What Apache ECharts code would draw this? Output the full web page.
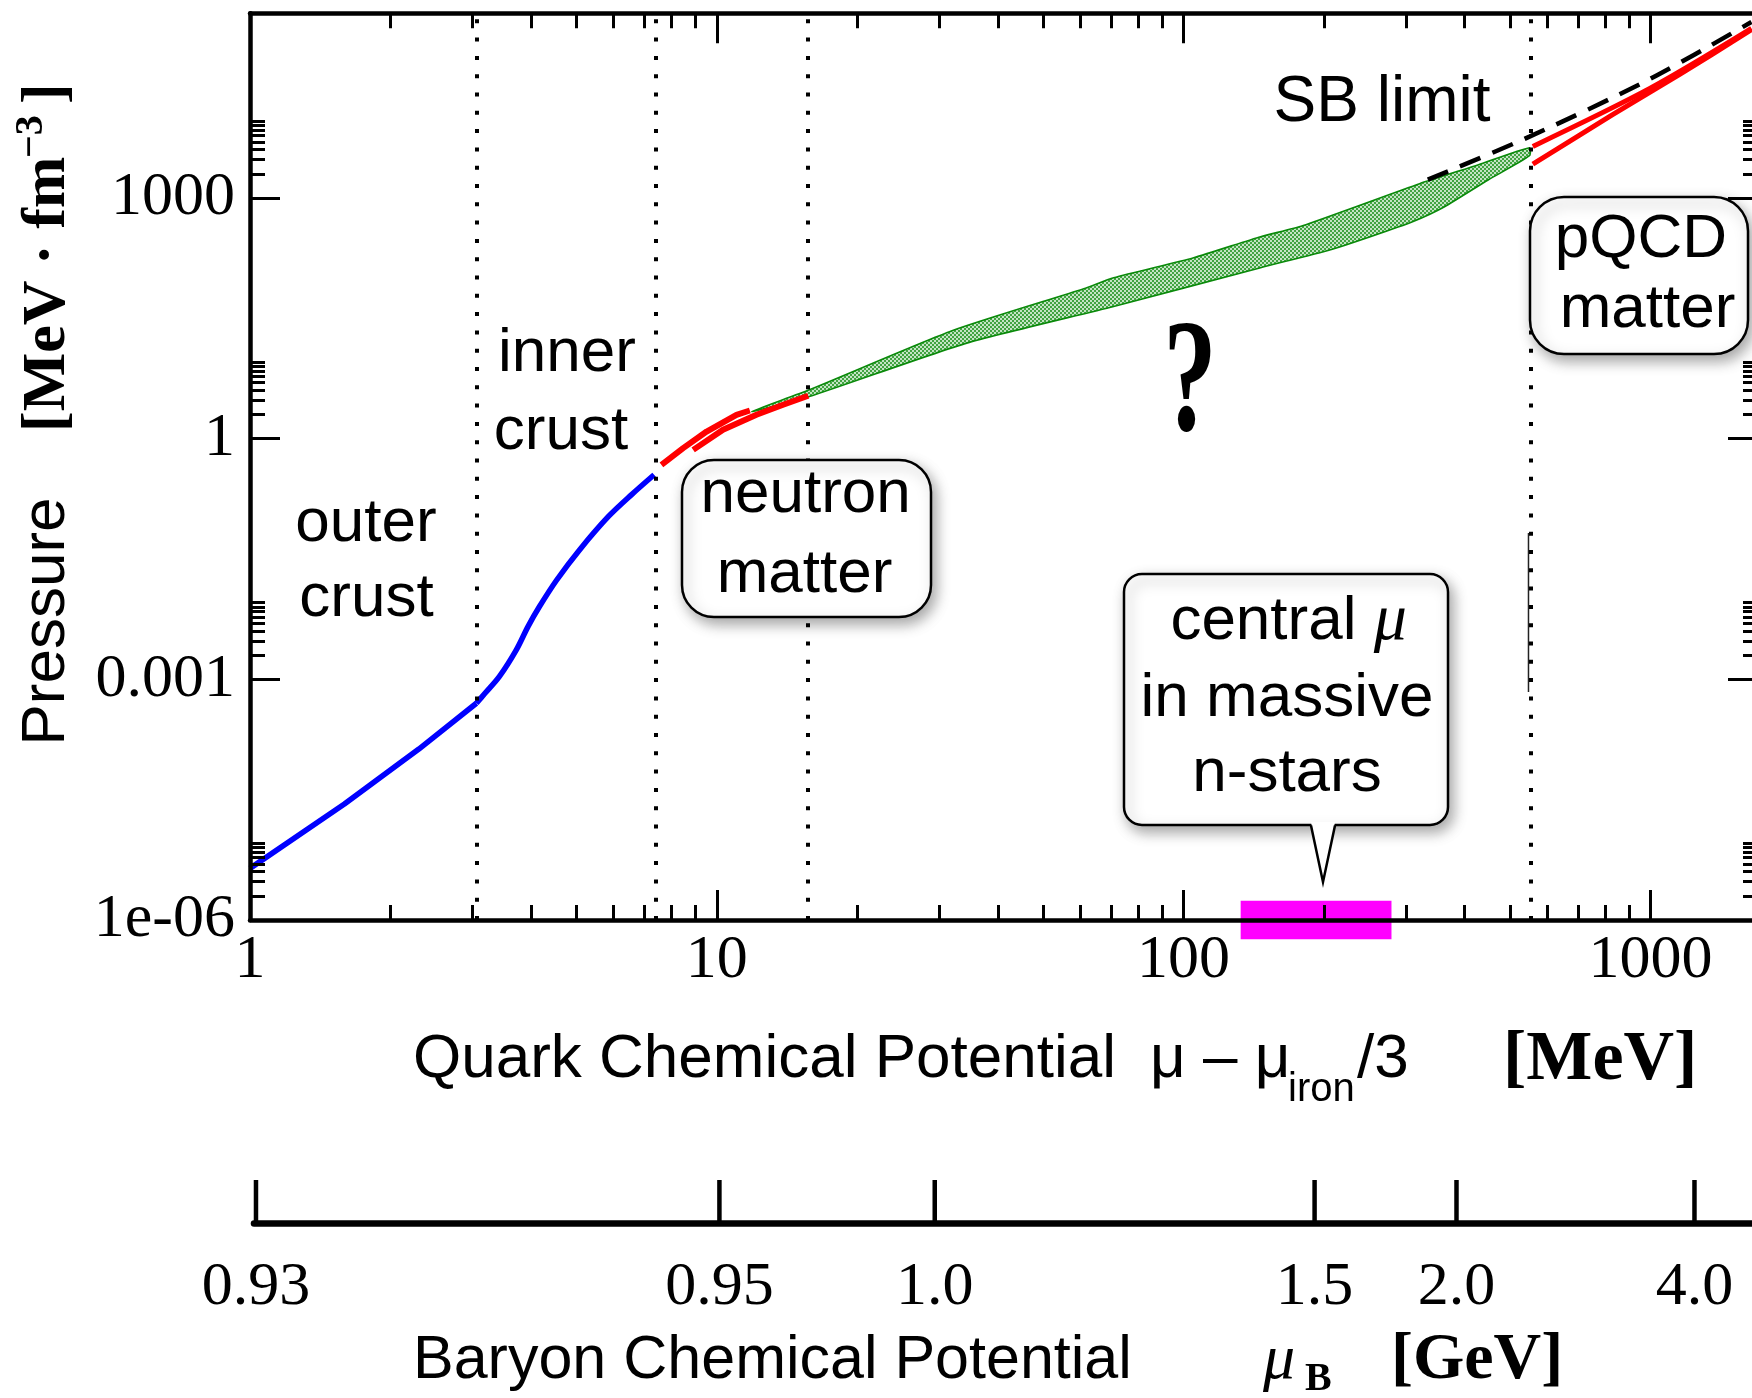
<!DOCTYPE html>
<html><head><meta charset="utf-8">
<script src="https://cdn.jsdelivr.net/npm/echarts@6/dist/echarts.min.js"></script>
<style>html,body{margin:0;padding:0;background:#fff}#chart{width:1752px;height:1398px}</style>
</head><body><div id="chart"></div>
<script>
// ---------------- data ----------------
const xMajorTicks = [1, 10, 100, 1000];
const xTickLabels = ['1', '10', '100', '1000'];
const yMajorTicks = [1e-6, 1e-3, 1, 1000];
const yTickLabels = ['1e-06', '0.001', '1', '1000'];

// blue: outer crust and inner crust
const outerCrustX = [1, 1.593, 2.30, 3.055];
const outerCrustP = [4.4e-6, 2.79e-5, 1.35e-4, 5.03e-4];
const innerCrustX = [3.055, 3.187, 3.42, 3.72, 3.94, 4.17, 4.54, 5.08, 5.86, 6.56, 7.34];
const innerCrustP = [5.03e-4, 6.7e-4, 1.08e-3, 2.33e-3, 4.54e-3, 8.07e-3, 0.0173, 0.041, 0.107, 0.199, 0.354];

// red: neutron matter (two bounds)
const neutronAX = [7.61, 8.47, 9.51, 11.02, 11.77];
const neutronAP = [0.471, 0.760, 1.225, 1.98, 2.24];
const neutronBX = [8.90, 10.31, 12.16, 13.87, 15.70];
const neutronBP = [0.724, 1.29, 1.98, 2.64, 3.42];

// green band (interpolated region)
const bandUpperX = [11.88, 15.79, 31.9, 61.1, 70.8, 105.1, 146.2, 179.8, 320.2, 428.2, 550.7];
const bandUpperP = [2.18, 4.06, 22.1, 73.8, 101, 180, 328, 450, 1503, 2594, 4227];
const bandLowerX = [11.88, 15.79, 34.3, 70.8, 146.2, 206.5, 252, 309.3, 362.2, 449.9, 550.7];
const bandLowerP = [2.18, 3.35, 15.5, 44.4, 135, 226, 331, 505, 777, 1686, 3357];

// SB limit (dashed)
const sbX = [333.5, 550.7, 994.6, 1646];
const sbP = [1687, 5800, 30060, 156000];

// pQCD matter (two red lines)
const pqcdUpperX = [559.8, 994.6, 1646];
const pqcdUpperP = [4387, 23000, 129800];
const pqcdLowerX = [559.8, 829.8, 1153, 1646];
const pqcdLowerP = [2630, 10890, 34360, 125000];

// region boundaries (dotted verticals)
const dottedX = [3.055, 7.41, 15.69, 555.3];

// central mu range in massive neutron stars (magenta bar)
const centralMuRange = [132.5, 278.8];

// small stray vertical stroke near the pQCD boundary
const strayX = [548, 548];
const strayP = [0.0668, 6.97e-4];

// baryon chemical potential axis
const baryonTickLabels = ['0.93', '0.95', '1.0', '1.5', '2.0', '4.0'];
const baryonTickAt = [1.03, 10.13, 29.3, 190.8, 384.2, 1242.7];

// ---------------- chart ----------------
const SANS = '"Liberation Sans", Arial, Helvetica, sans-serif';
const SERIF = '"Liberation Serif", "Times New Roman", serif';
const X_MIN = 1, X_MAX = 1700, Y_MIN = 1e-6, Y_MAX = 2e5;
const pairs = (xs, ys) => xs.map((x, i) => [x, ys[i]]);
const minorOf = arr => arr.flatMap(v => [2,3,4,5,6,7,8,9].map(k => +(k * v).toPrecision(6)));
function labelFor(v, vals, labels) {
  const lv = Math.log10(v);
  for (let i = 0; i < vals.length; i++) if (Math.abs(Math.log10(vals[i]) - lv) < 1e-6) return labels[i];
  return '';
}

const pc = document.createElement('canvas'); pc.width = 4; pc.height = 4;
const g = pc.getContext('2d');
g.fillStyle = '#c4e5c4'; g.fillRect(0, 0, 4, 4);
g.fillStyle = '#42a342'; g.fillRect(0, 0, 2, 2); g.fillRect(2, 2, 2, 2);
const greenPattern = { image: pc, repeat: 'repeat' };

function xAx(pos, ticks, len, line, labels) {
  return {
    gridIndex: 0, type: 'log', position: pos, min: X_MIN, max: X_MAX, z: 5,
    axisLine: { show: line, onZero: false, lineStyle: { color: '#000', width: 4.5 } },
    axisTick: { show: true, inside: true, length: len, customValues: ticks, lineStyle: { color: '#000', width: 3 } },
    axisLabel: labels ? { show: true, customValues: xMajorTicks, formatter: v => labelFor(v, xMajorTicks, xTickLabels),
      fontFamily: SERIF, fontSize: 62, color: '#000', margin: 10 } : { show: false },
    splitLine: { show: false }, minorTick: { show: false }
  };
}
function yAx(pos, ticks, len, line, labels) {
  return {
    gridIndex: 0, type: 'log', position: pos, min: Y_MIN, max: Y_MAX, z: 5,
    axisLine: { show: line, onZero: false, lineStyle: { color: '#000', width: 4.5 } },
    axisTick: { show: true, inside: true, length: len, customValues: ticks, lineStyle: { color: '#000', width: 3 } },
    axisLabel: labels ? { show: true, customValues: yMajorTicks, formatter: v => labelFor(v, yMajorTicks, yTickLabels),
      fontFamily: SERIF, fontSize: 62, color: '#000', margin: 15 } : { show: false },
    splitLine: { show: false }, minorTick: { show: false }
  };
}

function bandRender(params, api) {
  const pts = [];
  for (let i = 0; i < bandUpperX.length; i++) pts.push(api.coord([bandUpperX[i], bandUpperP[i]]));
  for (let i = bandLowerX.length - 1; i >= 1; i--) pts.push(api.coord([bandLowerX[i], bandLowerP[i]]));
  return { type: 'polygon', shape: { points: pts, smooth: 0.2 },
    style: { fill: greenPattern, stroke: '#0a8a0a', lineWidth: 1.6 } };
}

function lineSeries(data, color, width, extra) {
  return Object.assign({ type: 'line', xAxisIndex: 0, yAxisIndex: 0, data, symbol: 'none', showSymbol: false,
    silent: true, z: 3, lineStyle: { color, width } }, extra || {});
}

function T(x, y, text, font, align, extra) {
  return Object.assign({ type: 'text', x, y, z: 120, silent: true,
    style: { text, font, fill: '#000', align: align || 'center', verticalAlign: 'middle' } }, extra || {});
}
const boxStyle = { fill: '#fff', stroke: '#000', lineWidth: 2.5, shadowBlur: 14,
  shadowColor: 'rgba(0,0,0,0.35)', shadowOffsetX: 4, shadowOffsetY: 6 };
const F = (s, fam, pre) => (pre ? pre + ' ' : '') + s + 'px ' + fam;

const option = {
  animation: false,
  backgroundColor: '#fff',
  grid: [
    { left: 250, top: 13.3, width: 1508, height: 906.7, containLabel: false, outerBoundsMode: 'none' },
    { left: 254, top: 1180, width: 1504, height: 43, containLabel: false, outerBoundsMode: 'none' }
  ],
  xAxis: [
    xAx('bottom', xMajorTicks, 30, true, true),
    xAx('bottom', minorOf(xMajorTicks), 15, false, false),
    xAx('top', xMajorTicks, 30, true, false),
    xAx('top', minorOf(xMajorTicks), 15, false, false),
    { gridIndex: 1, type: 'log', position: 'bottom', min: 1.02, max: X_MAX,
      axisLine: { show: true, onZero: false, lineStyle: { color: '#000', width: 6.5 } },
      axisTick: { show: false }, axisLabel: { show: false }, splitLine: { show: false } }
  ],
  yAxis: [
    yAx('left', yMajorTicks, 30, true, true),
    yAx('left', minorOf(yMajorTicks), 15, false, false),
    yAx('right', yMajorTicks, 30, true, false),
    yAx('right', minorOf(yMajorTicks), 15, false, false),
    { gridIndex: 1, type: 'value', min: 0, max: 1, show: false }
  ],
  series: [
    { type: 'custom', xAxisIndex: 0, yAxisIndex: 0, z: 1, silent: true,
      data: [[bandUpperX[0], bandUpperP[0]]], renderItem: bandRender },
    lineSeries(pairs(centralMuRange, [Y_MIN, Y_MIN]), '#ff00ff', 38.6, { clip: false, z: 1 }),
    lineSeries([[dottedX[0], Y_MIN]], '#000', 0, {
      markLine: { silent: true, symbol: ['none', 'none'], label: { show: false },
        lineStyle: { color: '#000', width: 4, type: [4, 14.3] },
        data: dottedX.map(x => ({ xAxis: x })) } }),
    lineSeries(pairs(strayX, strayP), '#222', 1.5),
    lineSeries(pairs(outerCrustX, outerCrustP), '#0000ff', 5.5),
    lineSeries(pairs(innerCrustX, innerCrustP), '#0000ff', 5.5, { smooth: 0.3 }),
    lineSeries(pairs(neutronAX, neutronAP), '#ff0000', 6),
    lineSeries(pairs(neutronBX, neutronBP), '#ff0000', 6),
    lineSeries(pairs(sbX, sbP), '#000', 4.5, { lineStyle: { color: '#000', width: 4.5, type: [22, 13] }, smooth: 0.3, z: 4 }),
    lineSeries(pairs(pqcdUpperX, pqcdUpperP), '#ff0000', 5, { smooth: 0.3 }),
    lineSeries(pairs(pqcdLowerX, pqcdLowerP), '#ff0000', 5, { smooth: 0.3 }),
    { type: 'scatter', xAxisIndex: 4, yAxisIndex: 4, silent: true,
      data: baryonTickAt.map(x => [x, 0.5]), symbol: 'rect', symbolSize: [4.5, 43],
      itemStyle: { color: '#000', opacity: 1 },
      label: { show: true, position: 'bottom', distance: 34, formatter: p => baryonTickLabels[p.dataIndex],
        fontFamily: SERIF, fontSize: 62, color: '#000', opacity: 1 } }
  ],
  graphic: { elements: [
    // callout boxes
    { type: 'rect', z: 100, silent: true, shape: { x: 682, y: 460, width: 249, height: 157, r: 32 }, style: boxStyle },
    { type: 'rect', z: 100, silent: true, shape: { x: 1530, y: 197, width: 218, height: 157, r: 34 }, style: boxStyle },
    { type: 'rect', z: 100, silent: true, shape: { x: 1124, y: 574, width: 324, height: 251, r: 18 }, style: boxStyle },
    { type: 'polygon', z: 101, silent: true, shape: { points: [[1311, 822], [1335, 822], [1323, 882]] }, style: { fill: '#fff' } },
    { type: 'polyline', z: 102, silent: true, shape: { points: [[1311, 825.5], [1323, 882], [1335, 825.5]] }, style: { stroke: '#000', lineWidth: 2.5, fill: null } },
    // region annotations
    T(366, 523.5, 'outer', F(62, SANS)),
    T(366.5, 599, 'crust', F(62, SANS)),
    T(567, 353.5, 'inner', F(62, SANS)),
    T(561, 431.8, 'crust', F(62, SANS)),
    T(1382, 103.5, 'SB limit', F(64, SANS)),
    T(805.6, 495, 'neutron', F(62, SANS)),
    T(804.5, 575, 'matter', F(62, SANS)),
    T(1641, 240, 'pQCD', F(62, SANS)),
    T(1647.5, 310, 'matter', F(62, SANS)),
    { type: 'text', x: 1288.6, y: 621.8, z: 120, silent: true,
      style: { text: '{a|central }{m|μ}', align: 'center', verticalAlign: 'middle', fill: '#000',
        rich: { a: { font: F(62, SANS) }, m: { font: F(66, SERIF, 'italic') } } } },
    T(1287, 698.5, 'in massive', F(62, SANS)),
    T(1287, 773.5, 'n-stars', F(62, SANS)),
    T(1190, 388, '?', F(162, SERIF, 'bold'), 'center', { scaleX: 0.66 }),
    // y axis title (rotated)
    T(47, 621.5, 'Pressure', F(62, SANS), 'center', { rotation: Math.PI / 2 }),
    T(48, 432, '[MeV · fm', F(62, SERIF, 'bold'), 'left', { rotation: Math.PI / 2 }),
    T(31.5, 158, '−3', F(40, SERIF, 'bold'), 'left', { rotation: Math.PI / 2 }),
    T(48, 104, ']', F(62, SERIF, 'bold'), 'left', { rotation: Math.PI / 2 }),
    // x axis title
    T(413, 1060, 'Quark Chemical Potential', F(62, SANS), 'left'),
    T(1150, 1060, 'μ – μ', F(62, SANS), 'left'),
    T(1288, 1090, 'iron', F(40, SANS), 'left'),
    T(1357, 1060, '/3', F(62, SANS), 'left'),
    T(1503, 1061, '[MeV]', F(70, SERIF, 'bold'), 'left'),
    // baryon axis title
    T(413, 1361.5, 'Baryon Chemical Potential', F(61, SANS), 'left'),
    T(1263, 1361, 'μ', F(64, SERIF, 'italic'), 'left'),
    T(1305, 1379.5, 'B', F(40, SERIF, 'bold'), 'left'),
    T(1391, 1361, '[GeV]', F(66, SERIF, 'bold'), 'left')
  ] }
};

const chart = echarts.init(document.getElementById('chart'), null, { renderer: 'canvas', width: 1752, height: 1398 });
chart.setOption(option);
</script>
</body></html>
